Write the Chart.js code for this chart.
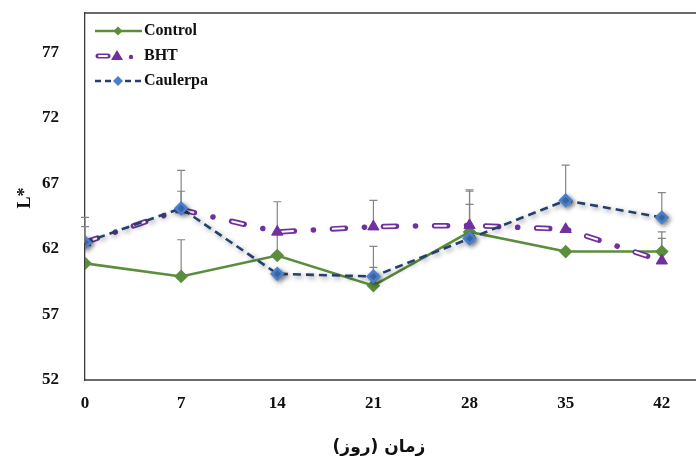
<!DOCTYPE html>
<html>
<head>
<meta charset="utf-8">
<script src="https://cdn.jsdelivr.net/npm/chart.js@4/dist/chart.umd.min.js"></script>
<style>
  html, body { margin: 0; padding: 0; background: #fff; overflow: hidden; }
  #wrap { width: 696px; height: 464px; }
  canvas { display: block; }
</style>
</head>
<body>
<div id="wrap"><canvas id="lChart" width="696" height="464"></canvas></div>
<script>
// Data
const days = [0, 7, 14, 21, 28, 35, 42];
const controlL = [60.9, 59.9, 61.5, 59.2, 63.3, 61.8, 61.8];
const bhtL = [62.5, 65.0, 63.3, 63.7, 63.8, 63.5, 61.1];
const caulerpaL = [62.5, 65.1, 60.1, 59.9, 62.8, 65.7, 64.4];

// upper error bars (null = not visible)
const controlErr = [null, 2.8, 4.1, 1.4, 2.1, null, 1.5];
const bhtErr = [1.9, 1.4, null, 2.0, 2.7, null, 1.7];
const caulerpaErr = [1.2, 2.9, null, 2.3, 3.6, 2.7, 1.9];

const xTicks = [0, 7, 14, 21, 28, 35, 42];
const yTicks = [52, 57, 62, 67, 72, 77];

const seriesNames = ["Control", "BHT", "Caulerpa"];

const green = "#5B8E3C";
const purple = "#7030A0";
const navy = "#24406E";
const blue = "#4A7FCC";
const serif = '"Liberation Serif", "Times New Roman", serif';

function pts(vals) {
  return vals.map((v, i) => ({ x: days[i], y: v }));
}

// BHT dash pattern: hollow long dash + dot
const bhtDash = [13, 19, 0.1, 19];

const datasets = [
  {
    label: "Caulerpa",
    data: pts(caulerpaL),
    borderColor: navy,
    borderWidth: 2.6,
    borderDash: [8, 5],
    pointStyle: "rectRot",
    pointRadius: 5.5,
    pointBackgroundColor: blue,
    pointBorderColor: blue,
    tension: 0,
  },
  {
    label: "BHT",
    data: pts(bhtL),
    showLine: false,
    pointStyle: "triangle",
    pointRadius: 6.5,
    pointBackgroundColor: purple,
    pointBorderColor: purple,
  },
  {
    label: "bhtInner",
    data: pts(bhtL),
    borderColor: "#ffffff",
    borderWidth: 2,
    borderCapStyle: "round",
    borderDash: [11, 40],
    borderDashOffset: -1,
    pointRadius: 0,
  },
  {
    label: "bhtLine",
    data: pts(bhtL),
    borderColor: purple,
    borderWidth: 5.5,
    borderCapStyle: "round",
    borderDash: bhtDash,
    pointRadius: 0,
  },
  {
    label: "Control",
    data: pts(controlL),
    borderColor: green,
    borderWidth: 2.6,
    pointStyle: "rectRot",
    pointRadius: 5,
    pointBackgroundColor: green,
    pointBorderColor: green,
  },
];

// error bars behind the lines
const errorBars = {
  id: "errorBars",
  beforeDatasetsDraw(chart) {
    const { ctx, scales } = chart;
    const sets = [
      [controlL, controlErr],
      [bhtL, bhtErr],
      [caulerpaL, caulerpaErr],
    ];
    ctx.save();
    ctx.strokeStyle = "#858585";
    ctx.lineWidth = 1.2;
    sets.forEach(([vals, errs]) => {
      vals.forEach((v, i) => {
        if (errs[i] == null) return;
        const x = scales.x.getPixelForValue(days[i]);
        const y0 = scales.y.getPixelForValue(v);
        const y1 = scales.y.getPixelForValue(v + errs[i]);
        ctx.beginPath();
        ctx.moveTo(x, y0);
        ctx.lineTo(x, y1);
        ctx.moveTo(x - 4, y1);
        ctx.lineTo(x + 4, y1);
        ctx.stroke();
      });
    });
    ctx.restore();
  },
};

// soft shadow under the Caulerpa line
const shadowPlugin = {
  id: "shadowPlugin",
  beforeDatasetDraw(chart, args) {
    if (args.index !== 0) return;
    const ctx = chart.ctx;
    ctx.save();
    ctx.shadowColor = "rgba(0,0,0,0.45)";
    ctx.shadowBlur = 5;
    ctx.shadowOffsetX = 2;
    ctx.shadowOffsetY = 2;
  },
  afterDatasetDraw(chart, args) {
    if (args.index !== 0) return;
    chart.ctx.restore();
  },
};

function diamond(ctx, x, y, r, color) {
  ctx.beginPath();
  ctx.moveTo(x, y - r);
  ctx.lineTo(x + r, y);
  ctx.lineTo(x, y + r);
  ctx.lineTo(x - r, y);
  ctx.closePath();
  ctx.fillStyle = color;
  ctx.fill();
}

// legend, titles and frame lines running to the right edge
const decorations = {
  id: "decorations",
  afterDraw(chart) {
    const { ctx, chartArea } = chart;
    ctx.save();

    ctx.strokeStyle = "#3a3a3a";
    ctx.lineWidth = 1.3;
    ctx.beginPath();
    ctx.moveTo(chartArea.left, chartArea.top);
    ctx.lineTo(chart.width, chartArea.top);
    ctx.moveTo(chartArea.left, chartArea.bottom);
    ctx.lineTo(chart.width, chartArea.bottom);
    ctx.stroke();

    // legend
    const rows = [31, 56, 81];
    // Control
    ctx.strokeStyle = green;
    ctx.lineWidth = 2.6;
    ctx.beginPath();
    ctx.moveTo(95, rows[0]);
    ctx.lineTo(142, rows[0]);
    ctx.stroke();
    diamond(ctx, 118, rows[0], 4.5, green);
    // BHT
    ctx.lineCap = "round";
    ctx.strokeStyle = purple;
    ctx.lineWidth = 5;
    ctx.beginPath();
    ctx.moveTo(98, rows[1]);
    ctx.lineTo(108, rows[1]);
    ctx.stroke();
    ctx.strokeStyle = "#fff";
    ctx.lineWidth = 1.8;
    ctx.beginPath();
    ctx.moveTo(99, rows[1]);
    ctx.lineTo(107, rows[1]);
    ctx.stroke();
    ctx.lineCap = "butt";
    ctx.fillStyle = purple;
    ctx.beginPath();
    ctx.moveTo(117, rows[1] - 6);
    ctx.lineTo(123, rows[1] + 4);
    ctx.lineTo(111, rows[1] + 4);
    ctx.closePath();
    ctx.fill();
    ctx.beginPath();
    ctx.arc(131, rows[1] + 1, 2.2, 0, Math.PI * 2);
    ctx.fill();
    // Caulerpa
    ctx.strokeStyle = navy;
    ctx.lineWidth = 2.6;
    ctx.setLineDash([6, 4]);
    ctx.beginPath();
    ctx.moveTo(95, rows[2]);
    ctx.lineTo(142, rows[2]);
    ctx.stroke();
    ctx.setLineDash([]);
    diamond(ctx, 118, rows[2], 5, blue);

    ctx.fillStyle = "#111";
    ctx.font = "bold 16px " + serif;
    ctx.textAlign = "left";
    ctx.textBaseline = "middle";
    seriesNames.forEach((name, i) => ctx.fillText(name, 144, rows[i]));

    // y title
    ctx.save();
    ctx.translate(25, 198);
    ctx.rotate(-Math.PI / 2);
    ctx.font = "bold 18px " + serif;
    ctx.textAlign = "center";
    ctx.fillText("L*", 0, 0);
    ctx.restore();

    // x title
    ctx.direction = "rtl";
    ctx.textAlign = "center";
    ctx.font = 'bold 17px "DejaVu Sans", sans-serif';
    ctx.fillText("زمان (روز)", 379, 448);

    ctx.restore();
  },
};

const lChart = new Chart(document.getElementById("lChart"), {
  type: "line",
  data: { datasets: datasets },
  options: {
    responsive: false,
    animation: false,
    layout: { padding: { top: 13, right: 0, left: 0, bottom: 0 } },
    plugins: {
      legend: { display: false },
      tooltip: { enabled: false },
    },
    scales: {
      x: {
        type: "linear",
        min: 0,
        max: 43.9,
        grid: { display: false },
        border: { display: false },
        afterBuildTicks: (scale) => {
          scale.ticks = xTicks.map((v) => ({ value: v }));
        },
        afterFit: (scale) => {
          scale.height = 84;
          scale.paddingLeft = 0;
          scale.paddingRight = 0;
        },
        ticks: {
          padding: 5,
          color: "#111",
          font: { family: serif, size: 17, weight: "bold" },
          maxRotation: 0,
        },
      },
      y: {
        min: 52,
        max: 80,
        grid: { display: false },
        border: { display: true, color: "#3a3a3a", width: 1.3 },
        afterBuildTicks: (scale) => {
          scale.ticks = yTicks.map((v) => ({ value: v }));
        },
        afterFit: (scale) => {
          scale.width = 85;
          scale.paddingTop = 0;
          scale.paddingBottom = 0;
        },
        ticks: {
          padding: 18,
          color: "#111",
          font: { family: serif, size: 17, weight: "bold" },
        },
      },
    },
  },
  plugins: [errorBars, shadowPlugin, decorations],
});
</script>
</body>
</html>
